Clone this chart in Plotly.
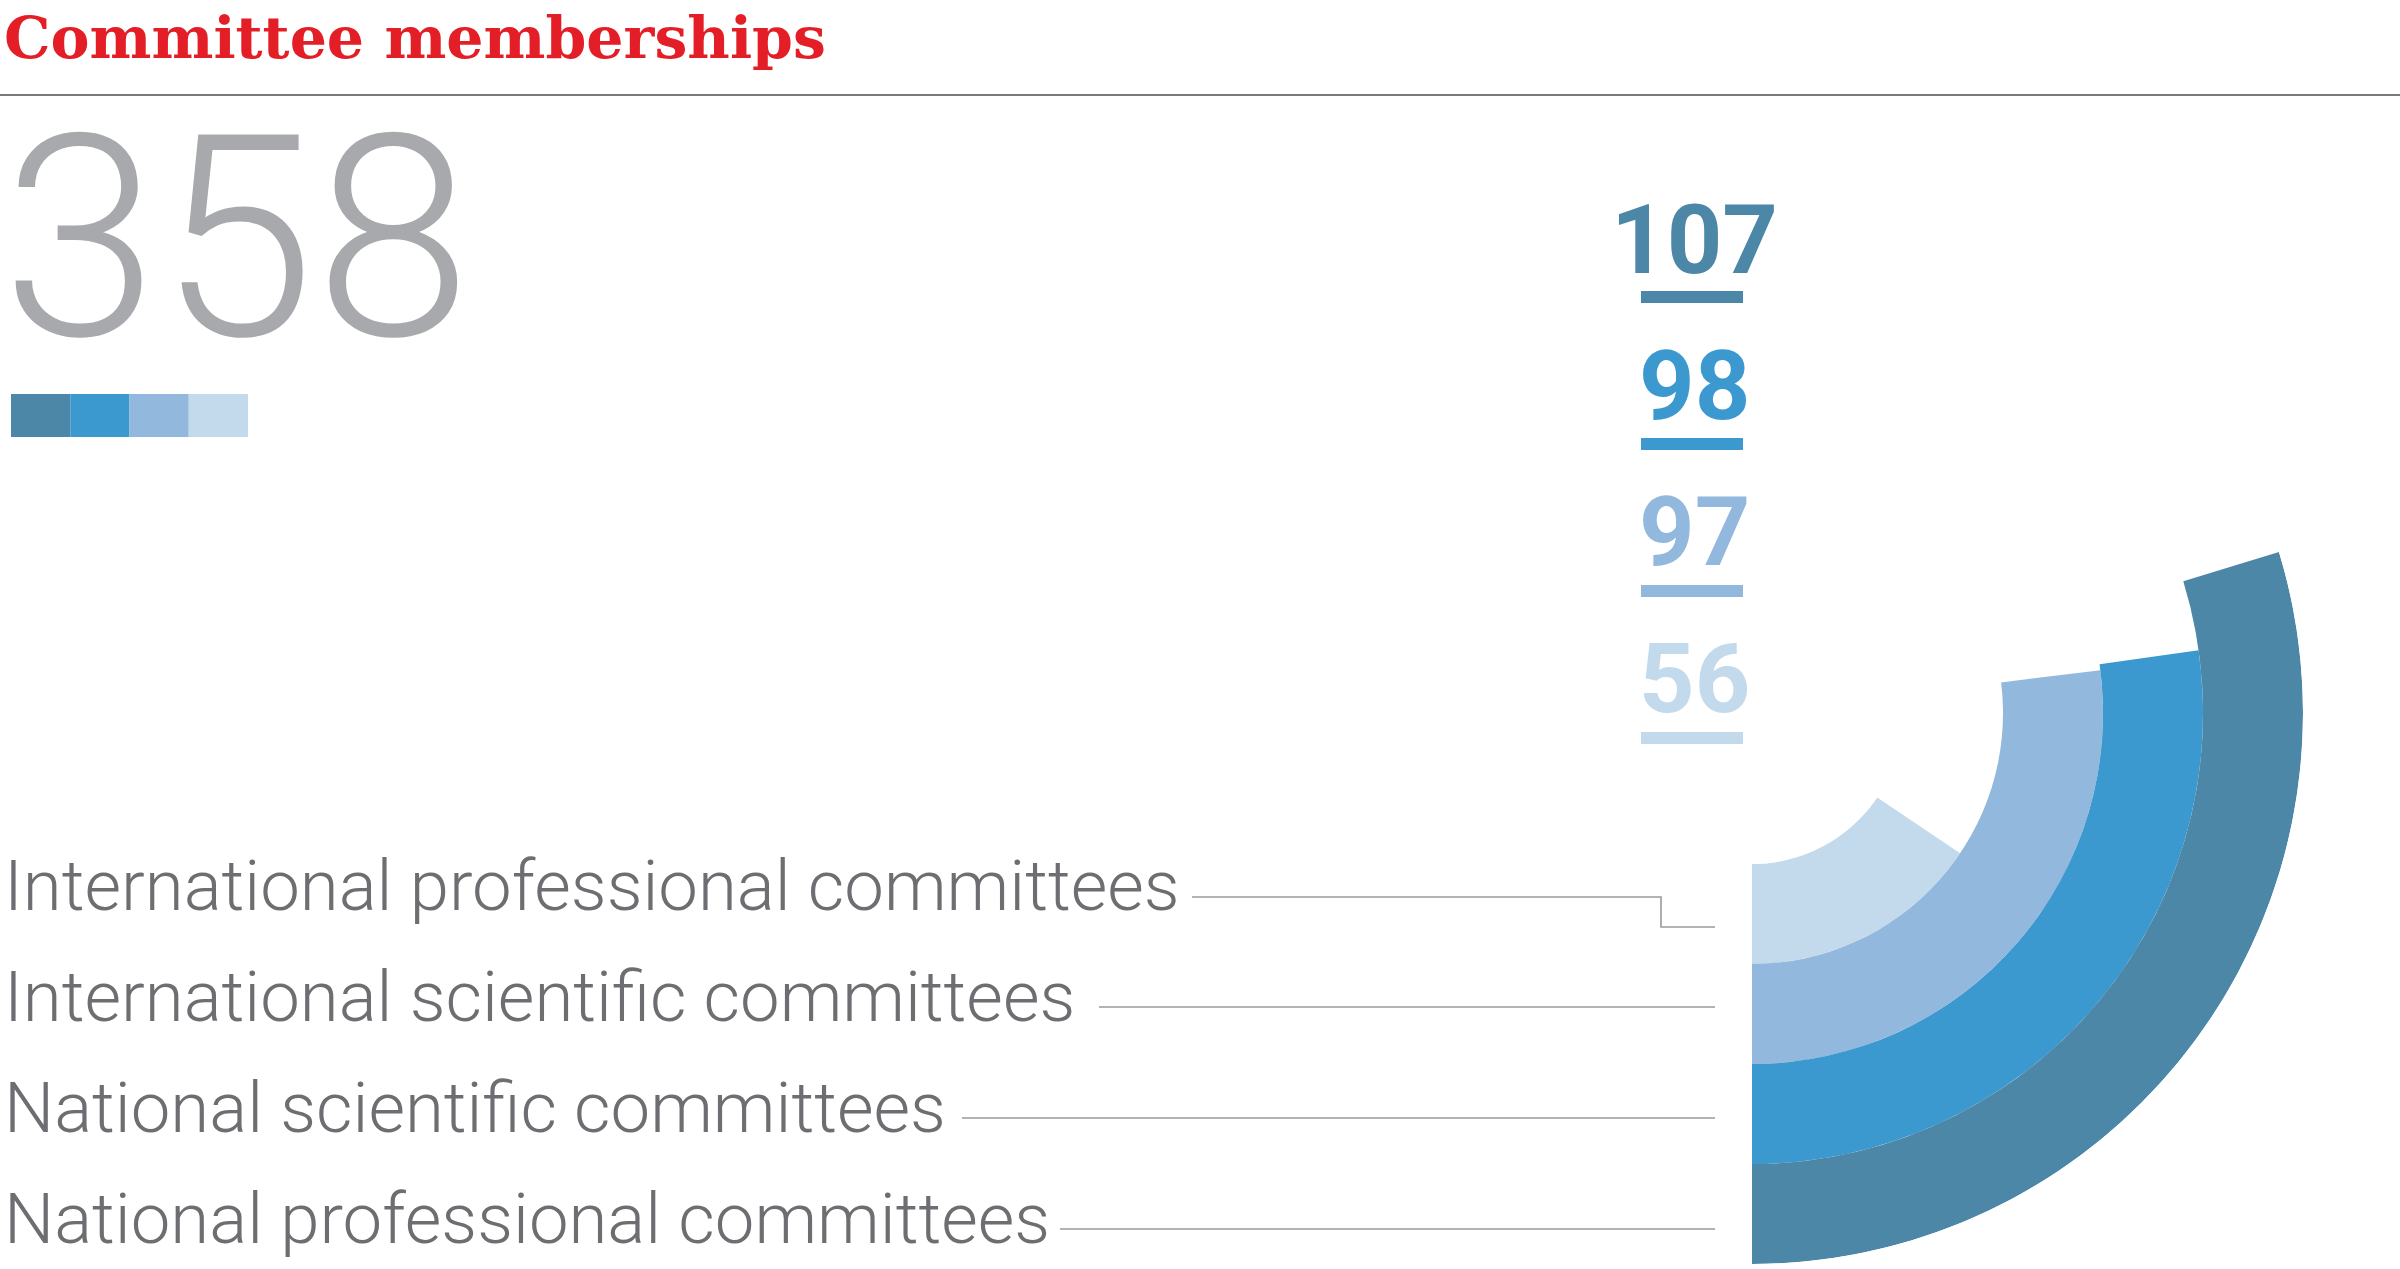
import plotly.graph_objects as go

# ---------------- data ----------------
title_text = "Committee memberships"
categories = [
    "International professional committees",
    "International scientific committees",
    "National scientific committees",
    "National professional committees",
]
values = [56, 97, 98, 107]          # inner ring -> outer ring
colors = ["#C3D9EC", "#92B9DD", "#3B99CF", "#4D87A8"]
total_label = str(sum(values))      # 358

# ---------------- canvas ----------------
W, H = 2400, 1269


def px(x):
    return x / W


def py(y):
    return 1 - y / H


fig = go.Figure()

# concentric ring "bars": each category is one ring, angle = value in degrees
for i, (cat, v, c) in enumerate(zip(categories, values, colors)):
    fig.add_trace(go.Barpolar(
        r=[1], base=[i], theta=[v / 2], width=[v],
        name=cat, marker=dict(color=c, line=dict(width=0)),
        hoverinfo="skip", showlegend=False,
    ))

CX, CY, R_OUT, R_IN = 1752, 713, 551, 151

shapes = []
annotations = []

# title + rule
annotations.append(dict(
    x=px(2), y=py(37), xref="paper", yref="paper", xanchor="left", yanchor="middle",
    text=title_text, showarrow=False,
    font=dict(family="DejaVu Serif", size=58.5, color="#E41E26", weight=700),
))
shapes.append(dict(type="line", xref="paper", yref="paper",
                   x0=0, x1=1, y0=py(95), y1=py(95),
                   line=dict(color="#7A7A7A", width=2)))

# big total
annotations.append(dict(
    x=0, y=py(238), xref="paper", yref="paper", xanchor="left", yanchor="middle",
    text=total_label, showarrow=False,
    font=dict(family="Roboto, Liberation Sans, sans-serif", size=282, color="#A7A9AC", weight=300),
))

# colour swatch strip (outer -> inner)
sw_x0, sw_w, sw_y0, sw_y1 = 11, 59.25, 394, 437
for k, c in enumerate(reversed(colors)):
    shapes.append(dict(type="rect", xref="paper", yref="paper",
                       x0=px(sw_x0 + k * sw_w), x1=px(sw_x0 + (k + 1) * sw_w),
                       y0=py(sw_y1), y1=py(sw_y0),
                       fillcolor=c, line=dict(width=0), layer="above"))

# value numbers with underline bars (outer ring first)
num_centers = [240, 386, 532, 679]
bar_tops = [291, 438, 585, 732]
for k, (v, c) in enumerate(zip(reversed(values), reversed(colors))):
    annotations.append(dict(
        x=px(1694), y=py(num_centers[k]), xref="paper", yref="paper",
        xanchor="center", yanchor="middle", text=str(v), showarrow=False,
        font=dict(family="Roboto, Liberation Sans, sans-serif", size=97, color=c, weight=700),
    ))
    shapes.append(dict(type="rect", xref="paper", yref="paper",
                       x0=px(1641), x1=px(1743),
                       y0=py(bar_tops[k] + 12), y1=py(bar_tops[k]),
                       fillcolor=c, line=dict(width=0)))

# category labels with leader lines
label_centers = [885, 996, 1107, 1218]
line_starts = [1192, 1099, 962, 1060]
line_ys = [927, 1007, 1118, 1229]
lc = "#9A9A9A"
for k, cat in enumerate(categories):
    annotations.append(dict(
        x=px(2), y=py(label_centers[k]), xref="paper", yref="paper",
        xanchor="left", yanchor="middle", text=cat, showarrow=False,
        font=dict(family="Roboto, Liberation Sans, sans-serif", size=70.7, color="#6D6E71", weight=300),
    ))
    if k == 0:
        pts = [(line_starts[k], 897), (1661, 897), (1661, line_ys[k]), (1715, line_ys[k])]
        path = "M " + " L ".join(f"{px(a)},{py(b)}" for a, b in pts)
        shapes.append(dict(type="path", xref="paper", yref="paper", path=path,
                           line=dict(color=lc, width=1.6)))
    else:
        shapes.append(dict(type="line", xref="paper", yref="paper",
                           x0=px(line_starts[k]), x1=px(1715),
                           y0=py(line_ys[k]), y1=py(line_ys[k]),
                           line=dict(color=lc, width=1.6)))

fig.update_layout(
    width=W, height=H,
    margin=dict(l=0, r=0, t=0, b=0),
    paper_bgcolor="white", plot_bgcolor="white",
    showlegend=False,
    polar=dict(
        domain=dict(x=[px(CX - R_OUT), px(CX + R_OUT)], y=[py(CY + R_OUT), py(CY - R_OUT)]),
        hole=R_IN / R_OUT,
        bgcolor="rgba(0,0,0,0)",
        barmode="overlay",
        radialaxis=dict(range=[0, len(values)], visible=False, showgrid=False),
        angularaxis=dict(rotation=-90, direction="counterclockwise", visible=False,
                         showgrid=False),
    ),
    shapes=shapes,
    annotations=annotations,
)

fig.write_html("out.html", config={"displayModeBar": False},
               post_script="document.body.style.margin='0';document.body.style.overflow='hidden';")
